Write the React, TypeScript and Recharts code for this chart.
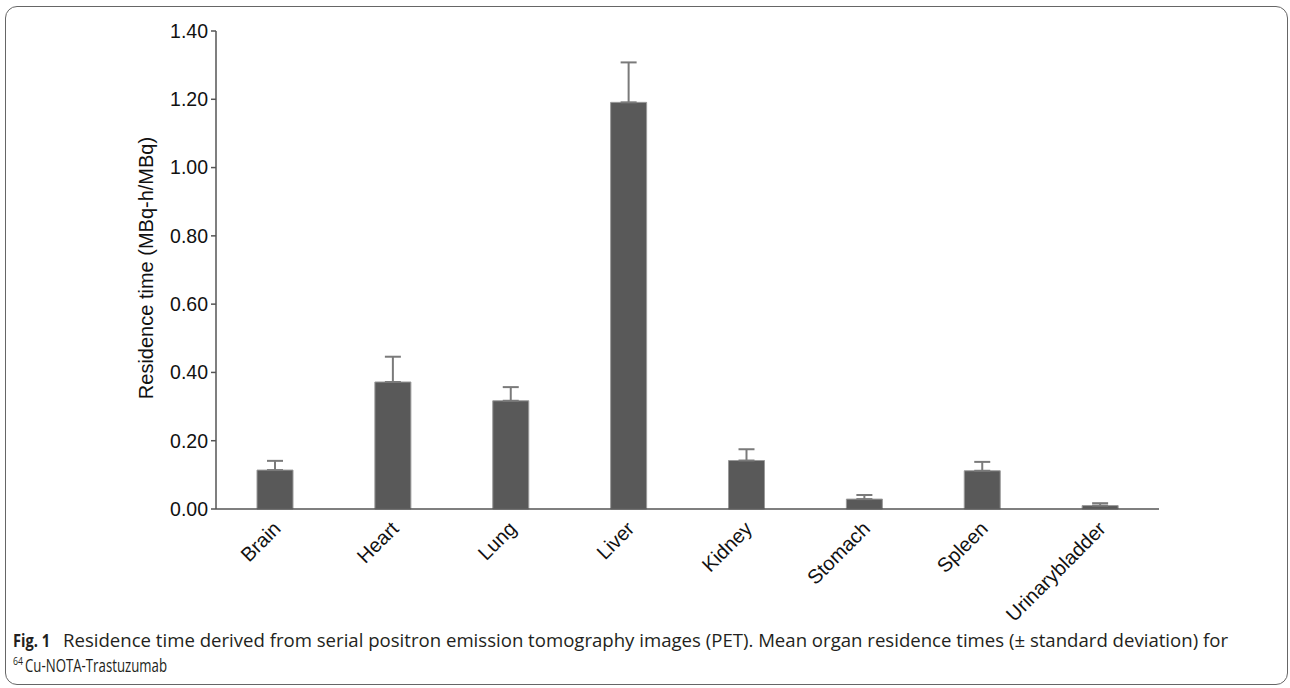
import React from 'react';
import { BarChart, Bar, XAxis, YAxis, ErrorBar } from 'recharts';

const organs = ['Brain', 'Heart', 'Lung', 'Liver', 'Kidney', 'Stomach', 'Spleen', 'Urinarybladder'];
const meanTimes = [0.114, 0.372, 0.317, 1.191, 0.142, 0.029, 0.112, 0.010];
const sdTimes = [0.027, 0.074, 0.040, 0.117, 0.033, 0.012, 0.026, 0.007];
const yTicks = [0, 0.2, 0.4, 0.6, 0.8, 1.0, 1.2, 1.4];

const data = organs.map((o, i) => ({ organ: o, mean: meanTimes[i], err: [0, sdTimes[i]] }));

const FONT = '"Liberation Sans", Arial, sans-serif';
const CAP_FONT = '"Open Sans", sans-serif';

const XTick = (props: any) => {
  const { x, y, payload } = props;
  const tx = x + 7;
  const ty = y + 13;
  return (
    <text x={tx} y={ty} transform={`rotate(-45 ${tx} ${ty})`} textAnchor="end" fontFamily={FONT} fontSize={20} fill="#111">
      {payload.value}
    </text>
  );
};

const YLabel = (props: any) => {
  const vb = props.viewBox || { x: 0, y: 30, width: 216, height: 479 };
  const cx = vb.x + 153;
  const cy = vb.y + vb.height / 2 - 2;
  return (
    <text x={cx} y={cy} transform={`rotate(-90 ${cx} ${cy})`} textAnchor="middle" fontFamily={FONT} fontSize={20} fill="#111">
      Residence time (MBq-h/MBq)
    </text>
  );
};

export default function App() {
  return (
    <div style={{ position: 'absolute', left: 0, top: 0, width: 1290, height: 688, background: '#fff' }}>
      <div style={{ position: 'absolute', left: 5, top: 6, width: 1281, height: 677, border: '1.5px solid #666', borderRadius: 12 }} />
      <div style={{ position: 'absolute', left: 0, top: 0 }}>
        <BarChart width={1290} height={688} data={data} margin={{ top: 31, right: 131, bottom: 0, left: 0 }}>
          <XAxis
            dataKey="organ"
            height={179}
            tickLine={false}
            axisLine={{ stroke: '#555', strokeWidth: 1.5 }}
            tick={<XTick />}
            interval={0}
          />
          <YAxis
            width={216}
            domain={[0, 1.4]}
            ticks={yTicks}
            tickFormatter={(v: number) => v.toFixed(2)}
            axisLine={{ stroke: '#555', strokeWidth: 1.5 }}
            tickLine={{ stroke: '#555', strokeWidth: 1.5 }}
            tickSize={5}
            tickMargin={3}
            tick={{ fontFamily: FONT, fontSize: 19.5, fill: '#111' }}
            label={<YLabel />}
          />
          <Bar dataKey="mean" fill="#595959" stroke="#9a9a9a" strokeWidth={1} barSize={36} isAnimationActive={false}>
            <ErrorBar dataKey="err" direction="y" width={8} stroke="#7a7a7a" strokeWidth={2} isAnimationActive={false} />
          </Bar>
        </BarChart>
      </div>
      <svg width={1290} height={688} style={{ position: 'absolute', left: 0, top: 0, pointerEvents: 'none' }}>
        <text x={13} y={647} fontFamily={CAP_FONT} fontSize={18} fontWeight="bold" fill="#231f20" textLength={37} lengthAdjust="spacingAndGlyphs">
          Fig. 1
        </text>
        <text x={63} y={647} fontFamily={CAP_FONT} fontSize={18} fill="#231f20" textLength={1165} lengthAdjust="spacingAndGlyphs">
          Residence time derived from serial positron emission tomography images (PET). Mean organ residence times (± standard deviation) for
        </text>
        <text x={13} y={665} fontFamily={CAP_FONT} fontSize={11} fill="#231f20" textLength={10} lengthAdjust="spacingAndGlyphs">
          64
        </text>
        <text x={25} y={672} fontFamily={CAP_FONT} fontSize={18} fill="#231f20" textLength={142} lengthAdjust="spacingAndGlyphs">
          Cu-NOTA-Trastuzumab
        </text>
      </svg>
    </div>
  );
}
